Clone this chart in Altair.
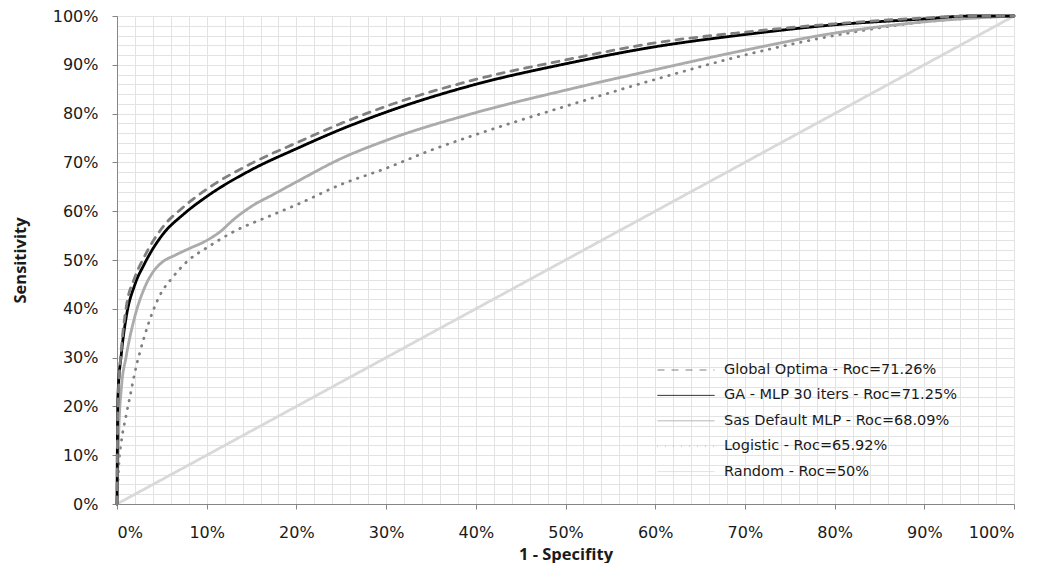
import altair as alt
import pandas as pd

series_names = [
    "Global Optima - Roc=71.26%",
    "GA - MLP 30 iters - Roc=71.25%",
    "Sas Default MLP - Roc=68.09%",
    "Logistic - Roc=65.92%",
    "Random - Roc=50%",
]

go_x = [0, 0.1, 0.5, 1, 2, 3, 5, 7.5, 10, 15, 20, 25, 30, 40, 50, 60, 70, 80, 90, 95, 100]
go_y = [0, 20, 32, 40, 46.5, 50.5, 56.5, 61, 64.5, 69.8, 74, 78, 81.5, 87, 91, 94.5, 96.7, 98.4, 99.6, 100, 100]

ga_x = [0, 0.1, 0.5, 1, 2, 3, 5, 7.5, 10, 15, 20, 25, 30, 40, 50, 60, 70, 80, 90, 95, 100]
ga_y = [0, 22, 31, 38, 45, 49, 55, 59.5, 63, 68.5, 72.8, 76.8, 80.3, 86, 90.2, 93.7, 96.2, 98.2, 99.4, 100, 100]

sas_x = [0, 0.2, 0.5, 1, 2, 3, 4, 5, 6.5, 8, 10, 11.5, 13, 15, 17.5, 20, 25, 30, 40, 50, 60, 70, 80, 90, 100]
sas_y = [0, 15, 24, 30, 38.5, 44, 47.5, 49.5, 51, 52.3, 54, 55.8, 58.3, 61, 63.5, 66, 70.8, 74.5, 80.2, 84.8, 89, 93, 96.5, 98.8, 100]

log_x = [0, 0.2, 0.5, 1, 1.5, 2, 3, 4, 5, 6, 8, 10, 13, 17, 20, 25, 30, 35, 40, 50, 60, 70, 80, 90, 100]
log_y = [0, 8, 13, 18, 22.5, 27, 34, 39.5, 43.5, 46, 50, 52.5, 55.8, 59, 61.3, 65.5, 68.8, 72.5, 75.7, 81.5, 87, 92, 96, 98.8, 100]

rnd_x = [0, 100]
rnd_y = [0, 100]

colors = ["#808080", "#000000", "#ababab", "#808080", "#d9d9d9"]
dashes = [[7, 7], [1, 0], [1, 0], [0.5, 7.5], [1, 0]]

# draw order: Random, Logistic, Sas, GA, Global Optima
frames = []
for name, xs, ys in [
    (series_names[4], rnd_x, rnd_y),
    (series_names[3], log_x, log_y),
    (series_names[2], sas_x, sas_y),
    (series_names[1], ga_x, ga_y),
    (series_names[0], go_x, go_y),
]:
    frames.append(pd.DataFrame({"x": xs, "y": ys, "series": name}))
df = pd.concat(frames, ignore_index=True)

grid_vals = list(range(0, 101, 2))
tick_test = "datum.value % 10 === 0"

x_axis = alt.Axis(
    values=grid_vals,
    labelExpr=f"{tick_test} ? datum.value + '%' : ''",
    tickOpacity={"condition": {"test": tick_test, "value": 1}, "value": 0},
    tickSize=5,
    tickColor="#868686",
    domainColor="#868686",
    grid=True,
    gridColor="#e3e3e3",
    gridWidth=1,
    labelPadding=15,
    labelFont="DejaVu Sans",
    labelFontSize=16,
    labelColor="#1a1a1a",
    labelBaseline="top",
    title="1 - Specifity",
    titleFont="Open Sans",
    titleFontSize=16.5,
    titleFontWeight="bold",
    titleColor="#1a1a1a",
    titleY=55,
    titleBaseline="alphabetic",
)

y_axis = alt.Axis(
    values=grid_vals,
    labelExpr=f"{tick_test} ? datum.value + '%' : ''",
    tickOpacity={"condition": {"test": tick_test, "value": 1}, "value": 0},
    tickSize=5,
    tickColor="#868686",
    domainColor="#868686",
    grid=True,
    gridColor="#e3e3e3",
    gridWidth=1,
    labelPadding=14,
    labelFont="DejaVu Sans",
    labelFontSize=16,
    labelColor="#1a1a1a",
    title="Sensitivity",
    titleFont="Open Sans",
    titleFontSize=16.5,
    titleFontWeight="bold",
    titleColor="#1a1a1a",
    titleX=-92,
    titleBaseline="alphabetic",
)

legend = alt.Legend(
    title=None,
    orient="none",
    legendX=540,
    legendY=346,
    symbolType="stroke",
    symbolSize=3249,
    symbolStrokeWidth=1,
    clipHeight=16,
    labelFont="DejaVu Sans",
    labelFontSize=14.5,
    labelColor="#1a1a1a",
    labelOffset=9,
    rowPadding=9.4,
    labelLimit=400,
)

chart = (
    alt.Chart(df)
    .mark_line(strokeCap="round", interpolate="monotone", strokeWidth=2.8)
    .encode(
        x=alt.X("x:Q", scale=alt.Scale(domain=[0, 100], nice=False), axis=x_axis),
        y=alt.Y("y:Q", scale=alt.Scale(domain=[0, 100], nice=False), axis=y_axis),
        color=alt.Color(
            "series:N",
            scale=alt.Scale(domain=series_names, range=colors),
            legend=legend,
        ),
        strokeDash=alt.StrokeDash(
            "series:N",
            scale=alt.Scale(domain=series_names, range=dashes),
            legend=legend,
        ),
    )
    .properties(
        width=897,
        height=488,
        autosize=alt.AutoSizeParams(type="none"),
        padding={"left": 109, "top": 8, "right": 20, "bottom": 59},
    )
    .configure_view(stroke=None)
    .configure(background="white")
)

chart.save("out.html", embed_options={"renderer": "svg", "actions": False})
